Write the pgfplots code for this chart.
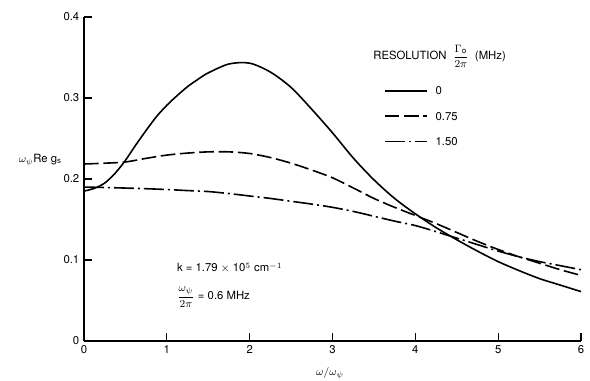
\documentclass[border=0pt]{standalone}
\usepackage{pgfplots}
\pgfplotsset{compat=1.18}
\usepackage{fontspec}
\setmainfont{TeX Gyre Heros}
\begin{document}
\begin{tikzpicture}
\begin{axis}[
  name=ax,
  at={(0,0)}, anchor=south west,
  scale only axis,
  width=372.75pt, height=243pt,
  xmin=0, xmax=6, ymin=0, ymax=0.4,
  axis lines=left,
  axis line style={-, line width=0.9pt},
  xtick={0,1,2,3,4,5,6},
  ytick={0,0.1,0.2,0.3,0.4},
  tick align=inside,
  major tick length=6pt,
  tick style={line width=0.9pt, black},
  /pgf/number format/assume math mode=true,
  tick label style={font=\fontsize{8.5}{10}\selectfont},
  yticklabel style={/pgf/number format/fixed},
  clip=false,
  legend cell align=left,
  legend style={draw=none, fill=none, at={(axis cs:3.57,0.320)}, anchor=north west,
    font=\fontsize{8.5}{10}\selectfont, row sep=10pt, column sep=4pt,
    nodes={inner sep=1.5pt, text height=6pt, text depth=0pt}},
  legend image code/.code={\draw[#1] (0pt,0pt) -- (32pt,0pt);},
]
\addplot[black, line width=1.2pt, smooth] coordinates {
(0,0.185) (0.125,0.1885) (0.25,0.195) (0.375,0.207) (0.5,0.223) (0.625,0.242)
(0.75,0.260) (0.875,0.277) (1.0,0.291) (1.125,0.303) (1.25,0.314) (1.375,0.323)
(1.5,0.331) (1.75,0.342) (2.0,0.343) (2.25,0.332) (2.5,0.313) (2.75,0.286)
(3.0,0.257) (3.25,0.226) (3.5,0.199) (3.75,0.176) (4.0,0.157) (4.25,0.140)
(4.5,0.125) (4.75,0.111) (5.0,0.098) (5.25,0.087) (5.5,0.077) (5.75,0.069)
(6.0,0.061)};
\addlegendentry{0}
\addplot[black, line width=1.2pt, smooth, dash pattern=on 11pt off 3.5pt] coordinates {
(0,0.2185) (0.25,0.2195) (0.5,0.221) (0.75,0.2255) (1.0,0.2295) (1.25,0.232)
(1.5,0.2335) (1.75,0.2335) (2.0,0.2315) (2.25,0.2265) (2.5,0.2195) (2.75,0.211)
(3.0,0.2015) (3.25,0.189) (3.5,0.176) (3.75,0.165) (4.0,0.155) (4.25,0.145)
(4.5,0.134) (4.75,0.123) (5.0,0.113) (5.25,0.104) (5.5,0.096) (5.75,0.088)
(6.0,0.081)};
\addlegendentry{0.75}
\addplot[black, line width=1.2pt, smooth, dash pattern=on 15pt off 3pt on 1.5pt off 3pt] coordinates {
(0,0.190) (0.25,0.1895) (0.5,0.1888) (0.75,0.188) (1.0,0.187) (1.25,0.1857)
(1.5,0.1845) (1.75,0.182) (2.0,0.179) (2.25,0.176) (2.5,0.1725) (2.75,0.169)
(3.0,0.165) (3.25,0.160) (3.5,0.154) (3.75,0.148) (4.0,0.1425) (4.25,0.135)
(4.5,0.127) (4.75,0.119) (5.0,0.111) (5.25,0.104) (5.5,0.098) (5.75,0.093)
(6.0,0.088)};
\addlegendentry{1.50}
\node[anchor=base west, font=\fontsize{8.5}{10}\selectfont, inner sep=0pt] at (axis cs:3.49,0.347)
  {RESOLUTION\ \ $\displaystyle\frac{\Gamma_{\mathrm{o}}}{2\pi}$\ \ (MHz)};
\node[anchor=west, font=\fontsize{8.5}{10}\selectfont, inner sep=0pt] at (axis cs:1.12,0.090)
  {k = 1.79 $\times$ 10$^{5}$ cm$^{-1}$};
\node[anchor=west, font=\fontsize{8.5}{10}\selectfont, inner sep=0pt] at (axis cs:1.12,0.054)
  {$\displaystyle\frac{\omega_{\psi}}{2\pi}$ = 0.6 MHz};
\node[anchor=center, font=\fontsize{8.5}{10}\selectfont, inner sep=0pt] at (axis description cs:0.495,-0.099)
  {$\omega/\omega_{\psi}$};
\node[anchor=center, font=\fontsize{8.5}{10}\selectfont, inner sep=0pt] at (axis description cs:-0.088,0.559)
  {$\omega_{\psi}$Re g\textsubscript{s}};
\end{axis}
\pgfresetboundingbox
\path (ax.south west) ++(-63pt,-30pt) rectangle ++(442.5pt,285.75pt);
\end{tikzpicture}
\end{document}
